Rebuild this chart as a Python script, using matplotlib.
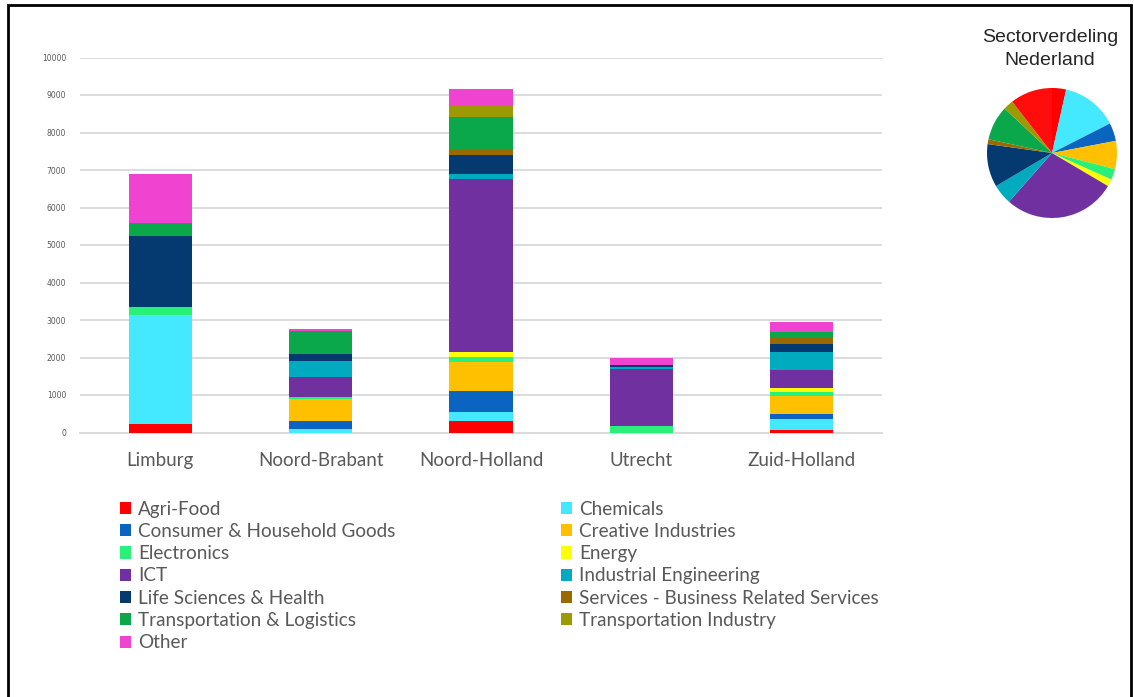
import numpy as np
import matplotlib
matplotlib.use("Agg")
from matplotlib import pyplot as plt
from matplotlib.patches import Rectangle, Patch

provinces = ["Limburg", "Noord-Brabant", "Noord-Holland", "Utrecht", "Zuid-Holland"]
sectors = ["Agri-Food", "Chemicals", "Consumer & Household Goods", "Creative Industries",
           "Electronics", "Energy", "ICT", "Industrial Engineering",
           "Life Sciences & Health", "Services - Business Related Services",
           "Transportation & Logistics", "Transportation Industry", "Other"]
colours = ["#ff0000", "#45e9ff", "#0a64c0", "#ffc000", "#28f078", "#ffff00", "#7030a0",
           "#00aabf", "#053a70", "#9a6a00", "#0aa84a", "#9c9a00", "#f043cf"]

# values per sector, one entry per province
agri_food = [230, 0, 310, 0, 70]
chemicals = [2910, 90, 235, 0, 285]
consumer = [0, 230, 560, 0, 135]
creative = [0, 580, 770, 0, 490]
electronics = [220, 60, 135, 180, 90]
energy = [0, 0, 135, 0, 115]
ict = [0, 530, 4620, 1510, 470]
industrial_eng = [0, 425, 125, 60, 490]
life_sciences = [1880, 180, 520, 45, 220]
services = [0, 0, 135, 0, 170]
transport_log = [350, 610, 870, 0, 135]
transport_ind = [0, 0, 300, 0, 0]
other = [1300, 45, 440, 180, 265]
series = [agri_food, chemicals, consumer, creative, electronics, energy, ict,
          industrial_eng, life_sciences, services, transport_log, transport_ind, other]

# pie: share of each sector for the whole country (percent)
pie_share = [3.5, 14.0, 4.5, 7.0, 2.7, 1.8, 28.0, 5.0, 10.7, 1.2, 8.6, 2.5, 10.5]
pie_colours = colours[:-1] + ["#ff0d0d"]

fig = plt.figure(figsize=(11.34, 6.97), dpi=100)
W, H = 1134, 697

def px(x0, y0, w, h):
    return [x0 / W, 1 - (y0 + h) / H, w / W, h / H]

ax = fig.add_axes(px(80, 57.5, 802, 375))
x = np.arange(len(provinces))
bottom = np.zeros(len(provinces))
for vals, col in zip(series, colours):
    ax.bar(x, vals, 0.395, bottom=bottom, color=col, linewidth=0, zorder=3)
    bottom += np.array(vals)

ax.set_xlim(-0.5, len(provinces) - 0.5)
ax.set_ylim(0, 10000)
ax.set_yticks(np.arange(0, 10001, 1000))
ax.set_yticklabels([str(v) for v in range(0, 10001, 1000)])
ax.yaxis.grid(True, color="#d9d9d9", linewidth=1.3, zorder=0)
ax.tick_params(axis="y", length=0, labelsize=5.5, labelcolor="#595959", pad=10)
ax.tick_params(axis="x", length=0, labelsize=13.5, labelcolor="#595959", pad=14)
ax.set_xticks(x)
ax.set_xticklabels(provinces, family="Lato")
for s in ["top", "right", "left"]:
    ax.spines[s].set_visible(False)
ax.spines["bottom"].set_color("#d9d9d9")
ax.spines["bottom"].set_linewidth(1.3)

# legend, two columns filled row by row
handles = [Patch(facecolor=c, edgecolor="none") for c in colours]
leg_kw = dict(frameon=False, handlelength=0.62, handleheight=0.62,
              handletextpad=0.35, labelspacing=0.28, borderaxespad=0,
              prop={"family": "Lato", "size": 13.6}, labelcolor="#595959")
leg1 = fig.legend(handles[0::2], sectors[0::2], loc="upper left",
                  bbox_to_anchor=(112 / W, 1 - 493 / H), **leg_kw)
leg2 = fig.legend(handles[1::2], sectors[1::2], loc="upper left",
                  bbox_to_anchor=(553 / W, 1 - 493 / H), **leg_kw)

# pie
pax = fig.add_axes(px(987, 88, 130, 130))
pax.pie(pie_share, colors=pie_colours, startangle=90, counterclock=False,
        wedgeprops=dict(linewidth=0))
pax.set_xlim(-1, 1)
pax.set_ylim(-1, 1)
pax.set_aspect("equal")
fig.text(1050 / W, 1 - 49 / H, "Sectorverdeling\nNederland", ha="center", va="center",
         fontsize=14, family="Liberation Sans", color="#262626", linespacing=1.4)

# frame round the chart (its bottom edge lies below the picture)
fig.patches.append(Rectangle((8 / W, 1 - 720 / H), 1123 / W, 715 / H,
                             transform=fig.transFigure, fill=False,
                             edgecolor="black", linewidth=2))

fig.savefig("out.png", dpi=100)
